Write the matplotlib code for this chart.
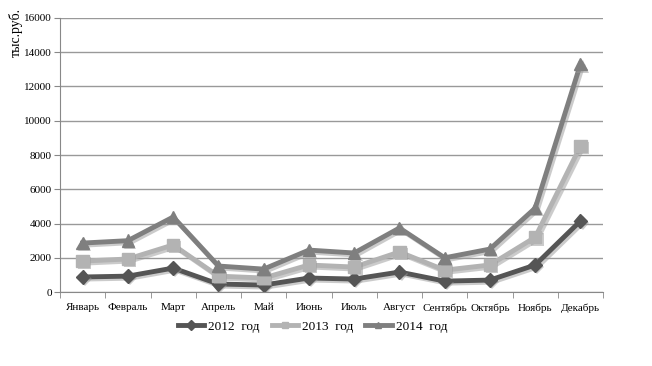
import numpy as np
import matplotlib.pyplot as plt
import matplotlib.patheffects as pe
from matplotlib.lines import Line2D

months = ["Январь", "Февраль", "Март", "Апрель", "Май", "Июнь", "Июль",
          "Август", "Сентябрь", "Октябрь", "Ноябрь", "Декабрь"]
y2012 = [880, 930, 1400, 470, 410, 820, 760, 1170, 640, 700, 1580, 4150]
y2013 = [1810, 1930, 2750, 930, 820, 1580, 1460, 2340, 1280, 1580, 3200, 8520]
y2014 = [2860, 3000, 4380, 1520, 1340, 2450, 2280, 3740, 2000, 2510, 4900, 13300]

plt.rcParams['font.family'] = ['Liberation Serif', 'DejaVu Serif']

fig = plt.figure(figsize=(6.52, 3.66), dpi=100)
ax = fig.add_axes([0.092, 0.202, 0.833, 0.749])

x = np.arange(len(months))
line_shadow = [pe.SimpleLineShadow(offset=(1.5, -1.5), shadow_color='#999999', alpha=0.5), pe.Normal()]
mk_shadow = [pe.SimplePatchShadow(offset=(1.5, -1.5), shadow_rgbFace='#999999', alpha=0.5), pe.Normal()]
series = [("2012  год", y2012, "#555555", "D", 7),
          ("2013  год", y2013, "#b3b3b3", "s", 9),
          ("2014  год", y2014, "#7f7f7f", "^", 9)]
handles = []
for label, vals, col, mk, ms in series:
    ax.plot(x, vals, color=col, lw=3.5, path_effects=line_shadow, zorder=3)
    ax.plot(x, vals, ls='none', marker=mk, markersize=ms, color=col,
            path_effects=mk_shadow, zorder=4)
    handles.append(Line2D([], [], color=col, lw=3.5, marker=mk, markersize=5, label=label))

ax.set_xlim(-0.5, 11.5)
ax.set_ylim(0, 16000)
ax.set_yticks(np.arange(0, 16001, 2000))
ax.set_xticks(x)
ax.set_xticklabels(months)
ax.set_xticks(np.arange(-0.5, 12, 1), minor=True)
ax.tick_params(axis='x', which='major', length=0, labelsize=8, pad=8)
ax.tick_params(axis='x', which='minor', length=4, color='#888888')
ax.tick_params(axis='y', length=4, color='#888888', labelsize=8, pad=2)
ax.grid(axis='y', color='#999999', lw=1)
ax.set_axisbelow(True)
for s in ['top', 'right']:
    ax.spines[s].set_visible(False)
ax.spines['left'].set_color('#888888')
ax.spines['bottom'].set_color('#888888')

fig.text(0.024, 0.91, "тыс.руб.", rotation=90, ha='center', va='center', fontsize=10)

ax.legend(handles=handles, loc='upper center', bbox_to_anchor=(0.465, -0.08), ncol=3,
          frameon=False, fontsize=9.5, handlelength=2.0, columnspacing=0.9,
          handletextpad=0.3, borderpad=0)

fig.savefig("out.png", dpi=100)
